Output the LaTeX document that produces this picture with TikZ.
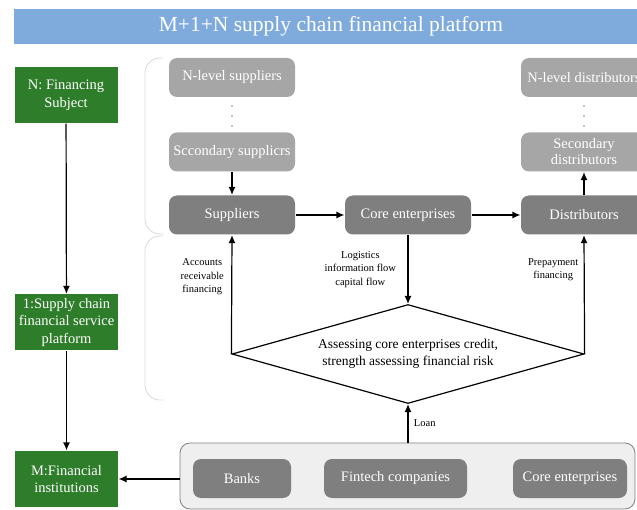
\documentclass[tikz,border=0pt]{standalone}
\usepackage{fontspec}
\setmainfont{Liberation Serif}
\usepackage{xcolor}
\usepackage{tikz}
\definecolor{titleblue}{HTML}{7FABDC}
\definecolor{fingreen}{HTML}{2E7D2A}
\definecolor{lightbox}{HTML}{A6A6A6}
\definecolor{darkbox}{HTML}{7F7F7F}
\definecolor{panel}{HTML}{EFEFEF}
\definecolor{bracket}{HTML}{D9D9D9}
\tikzset{
	gbox/.style={
			rectangle, fill=fingreen, text=white, align=center,
			minimum width=103pt, minimum height=56pt, inner sep=1pt,
			font=\fontsize{14.5}{17.5}\selectfont
		}
}
\tikzstyle{lb} = [rectangle, rounded corners=8pt, fill=lightbox, text=white, align=center, minimum width=126pt, minimum height=39pt, inner sep=1pt, font=\fontsize{14.5}{16}\selectfont]
\tikzstyle{db} = [lb, fill=darkbox]
\tikzstyle{lbl} = [align=center, font=\fontsize{10.5}{13.5}\selectfont]
\usetikzlibrary{arrows.meta,shapes.geometric}

\begin{document}
\begin{tikzpicture}[x=1pt, y=-1pt, >={Latex[length=8pt,width=7pt]}, line width=1.2pt]
  \useasboundingbox (0,0) rectangle (637,510);
  \clip (0,0) rectangle (637,510);
  \tikzstyle{every node}=[font=\fontsize{14.5}{17.5}\selectfont]
  % title
  \node[fill=titleblue, text=white, minimum width=634pt, minimum height=35pt,
        font=\fontsize{21.5}{24}\selectfont] (TT) at (331,26.5) {M+1+N supply chain financial platform};

  % left column
  \node[gbox] (NF) at (66,95) {N: Financing\\Subject};
  \node[gbox] (SP) at (66.5,322.5) {1:Supply chain\\financial service\\platform};
  \node[gbox] (MF) at (66.5,479) {M:Financial\\institutions};
  \draw[->] (NF) -- (SP);
  \draw[->] (SP) -- (MF);

  % brackets
  \draw[bracket, line width=0.8pt, rounded corners=15pt] (163,58) -- (145,58) -- (145,234) -- (163,234);
  \draw[bracket, line width=0.8pt, rounded corners=15pt] (163,236) -- (145,236) -- (145,400) -- (163,400);

  % chain
  \node[lb] (NS) at (232,77.5) {N-level suppliers};
  \node[lb] (SS) at (232,152) {Sccondary supplicrs};
  \node[db] (S) at (232,215) {Suppliers};
  \node[db] (CE) at (408,215) {Core enterprises};
  \node[db] (D) at (584,215) {Distributors};
  \node[lb] (SD) at (584,152) {Secondary\\distributors};
  \node[lb] (ND) at (584,77.5) {N-level distributors};
  \foreach \y in {106,116,126} {
    \fill (232,\y) circle (0.6);
    \fill (584,\y) circle (0.6);
  }
  \draw[->] (SS) -- (S);
  \draw[->] (S) -- (CE);
  \draw[->] (CE) -- (D);
  \draw[->] (D) -- (SD);

  % assessment
  \node[diamond, aspect=3.5, draw, fill=white, minimum width=352pt, minimum height=99pt, inner sep=0pt,
        align=center, font=\fontsize{13.5}{17}\selectfont] (AR) at (408,354)
        {Assessing core enterprises credit,\\strength assessing financial risk};
  \draw[->] (AR.west) -- (S.south) node[pos=0.65, left=4pt, lbl] {Accounts\\receivable\\financing};
  \draw[->] (CE.south) -- (AR.north) node[midway, left=8pt, lbl] {Logistics\\information flow\\capital flow};
  \draw[->] (AR.east) -- (D.south) node[pos=0.71, left=2pt, lbl] {Prepayment\\financing};

  % financial institutions
  \node[rectangle, rounded corners=10pt, draw=gray, line width=0.8pt, fill=panel, minimum width=455pt, minimum height=66pt] (FI) at (407.5,476) {};
  \node[db, minimum width=98pt] (B) at (242,478.5) {Banks};
  \node[db, minimum width=143pt] (FC) at (395.5,478.5) {Fintech companies};
  \node[db, minimum width=114pt] (CF) at (570,478.5) {Core enterprises};
  \draw[->] (FI.north -| AR.south) -- (AR.south) node[midway, right=2pt, lbl] {Loan};
  \draw[->] (FI.west |- MF.east) -- (MF.east);
\end{tikzpicture}
\end{document}
